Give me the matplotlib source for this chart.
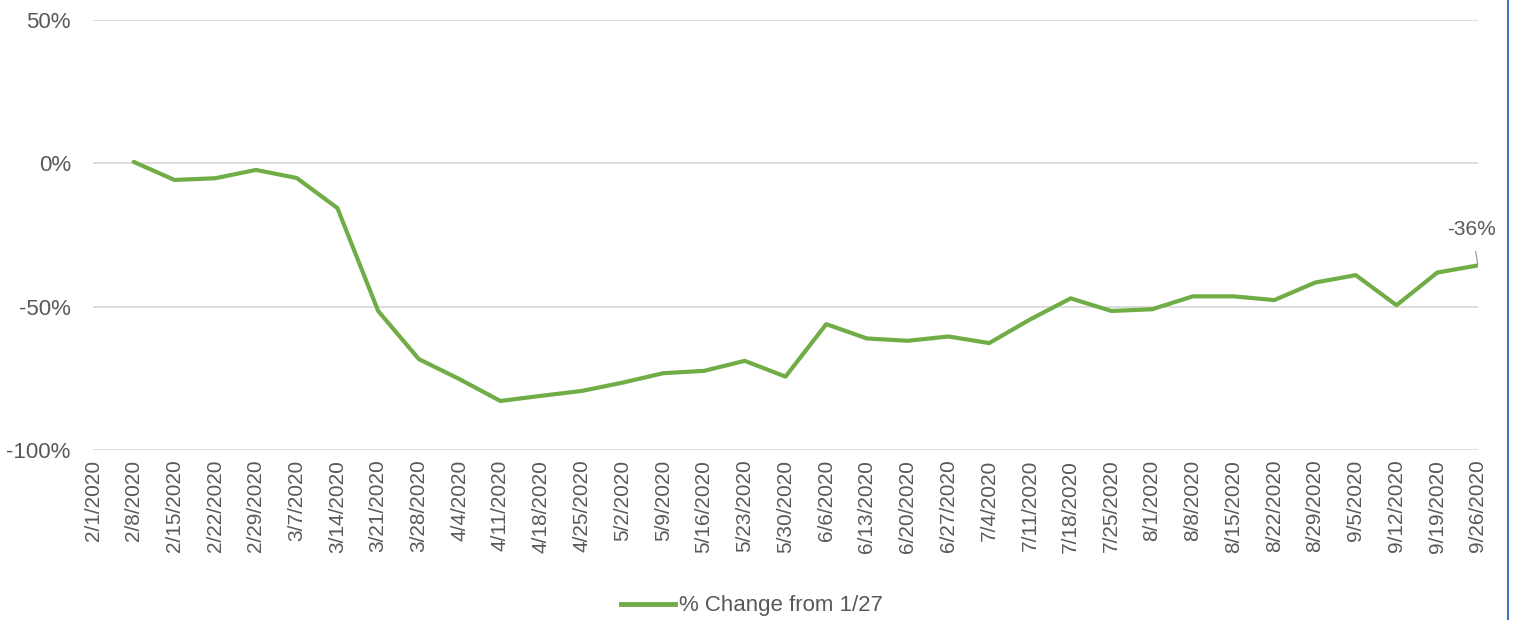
import matplotlib
matplotlib.use("Agg")
import matplotlib.pyplot as plt
from matplotlib.lines import Line2D

plt.rcParams['font.family'] = ['Liberation Sans', 'DejaVu Sans']

dates = ["2/1/2020", "2/8/2020", "2/15/2020", "2/22/2020", "2/29/2020", "3/7/2020",
         "3/14/2020", "3/21/2020", "3/28/2020", "4/4/2020", "4/11/2020", "4/18/2020",
         "4/25/2020", "5/2/2020", "5/9/2020", "5/16/2020", "5/23/2020", "5/30/2020",
         "6/6/2020", "6/13/2020", "6/20/2020", "6/27/2020", "7/4/2020", "7/11/2020",
         "7/18/2020", "7/25/2020", "8/1/2020", "8/8/2020", "8/15/2020", "8/22/2020",
         "8/29/2020", "9/5/2020", "9/12/2020", "9/19/2020", "9/26/2020"]

# values start at 2/8/2020
pct_change = [0.5, -5.8, -5.2, -2.3, -5.1, -15.6, -51.5, -68.3, -75.3, -82.9,
              -81.1, -79.4, -76.5, -73.2, -72.4, -68.9, -74.4, -56.1, -61.1, -61.9,
              -60.4, -62.7, -54.5, -47.1, -51.5, -50.9, -46.4, -46.4, -47.7, -41.6,
              -39.0, -49.5, -38.1, -35.6]

yticks = [50, 0, -50, -100]
ytick_labels = ["50%", "0%", "-50%", "-100%"]
series_name = "% Change from 1/27"

green = "#70AD47"
grey_text = "#595959"

fig = plt.figure(figsize=(15.17, 6.2), dpi=100)
ax = fig.add_axes([93 / 1517, 1 - 450 / 620, (1478 - 93) / 1517, (450 - 20) / 620])

x_all = list(range(len(dates)))
x_vals = x_all[len(dates) - len(pct_change):]
line, = ax.plot(x_vals, pct_change, color=green, linewidth=3.0, solid_joinstyle='round',
                solid_capstyle='round', label=series_name, zorder=3)

ax.set_ylim(-100, 50)
ax.set_xlim(0, len(dates) - 1)
ax.set_yticks(yticks)
ax.set_yticklabels(ytick_labels)
ax.set_xticks(x_all)
ax.set_xticklabels(dates, rotation=90, fontsize=15, color=grey_text)
ax.tick_params(axis='y', length=0, pad=16, labelsize=16, labelcolor=grey_text)
ax.tick_params(axis='x', length=0, pad=7)
for lab in ax.get_yticklabels():
    lab.set_horizontalalignment('right')

ax.grid(axis='y', color='#D9D9D9', linewidth=1.3)
ax.set_axisbelow(True)
for s in ax.spines.values():
    s.set_visible(False)

# data label on the last point
last_x, last_y = x_vals[-1], pct_change[-1]
ax.annotate(f"{round(last_y):d}%", xy=(last_x, last_y), xytext=(last_x - 0.15, last_y + 12.5),
            ha='center', va='center', fontsize=15, color=grey_text,
            arrowprops=dict(arrowstyle='-', color='#A6A6A6', lw=1.0, shrinkA=7, shrinkB=1),
            annotation_clip=False)

leg = fig.legend(handles=[Line2D([0], [0], color=green, lw=3.5)], labels=[series_name],
                 loc='center', bbox_to_anchor=(752 / 1517, 1 - 606 / 620), frameon=False,
                 fontsize=16, handlelength=2.4, handletextpad=0.2, labelcolor=grey_text)

# right-side border
fig.add_artist(Line2D([1508 / 1517, 1508 / 1517], [0, 1], color='#4472C4', lw=1.5,
                      transform=fig.transFigure))

fig.savefig("out.png", dpi=100, facecolor='white')
